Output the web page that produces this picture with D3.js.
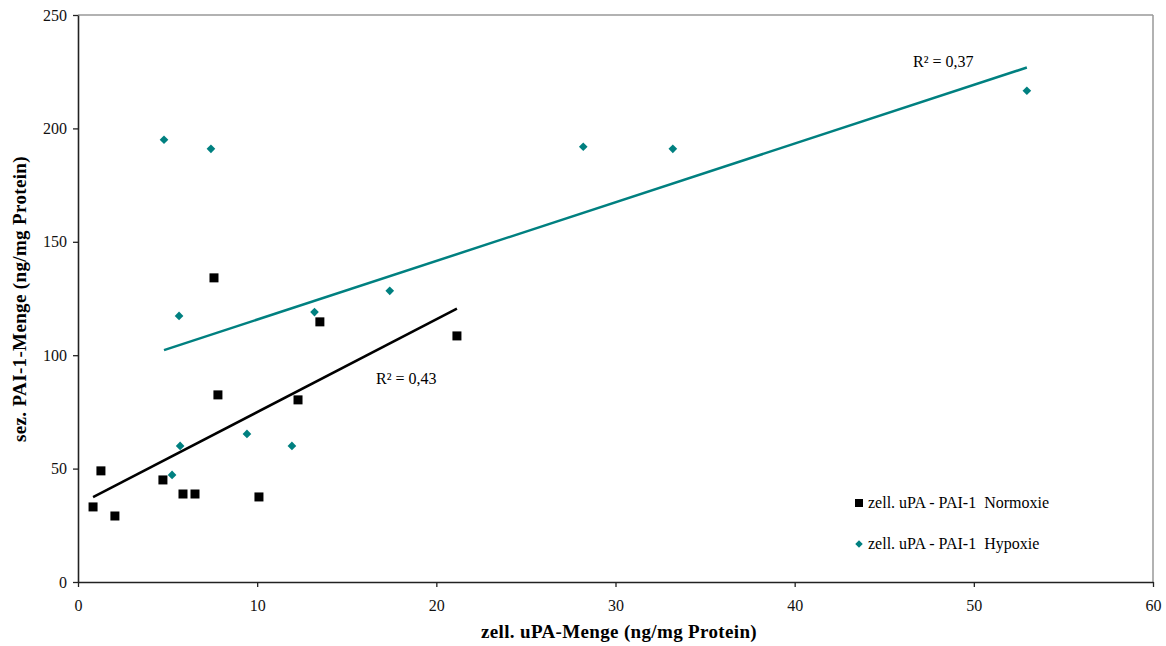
<!DOCTYPE html>
<html><head><meta charset="utf-8">
<script src="https://cdn.jsdelivr.net/npm/d3@7"></script>
<style>body{margin:0;background:#fff}svg{display:block}</style>
</head><body><svg id="c" width="1166" height="646"></svg>
<script>
const normX = [0.84,1.28,2.06,4.74,5.86,6.53,10.1,7.59,7.81,12.28,13.5,21.15];
const normY = [33.1,49,29.1,45,38.8,38.8,37.5,134.1,82.5,80.3,114.7,108.5];
const hypX = [4.8,7.42,5.64,13.2,17.4,5.7,5.25,9.43,11.94,28.2,33.2,52.96];
const hypY = [195,191,117.3,119,128.4,60,47.2,65.3,60,191.9,191,216.6];
const xTicks = [0,10,20,30,40,50,60];
const yTicks = [0,50,100,150,200,250];
const seriesNames = ["zell. uPA - PAI-1  Normoxie","zell. uPA - PAI-1  Hypoxie"];
const r2Labels = ["R² = 0,43","R² = 0,37"];
const xTitle = "zell. uPA-Menge (ng/mg Protein)";
const yTitle = "sez. PAI-1-Menge (ng/mg Protein)";

const FF = "'Liberation Serif', 'Times New Roman', Times, serif";
const svg = d3.select("#c").style("font-family", FF);
const L=78,R=1153,T=15,B=582;
const x = d3.scaleLinear().domain([0,60]).range([L,R]);
const y = d3.scaleLinear().domain([0,250]).range([B,T]);
const teal="#008080";

svg.append("line").attr("x1",L).attr("x2",R).attr("y1",T).attr("y2",T).attr("stroke","#999").attr("stroke-width",1.5);
svg.append("line").attr("x1",R).attr("x2",R).attr("y1",T).attr("y2",B).attr("stroke","#999").attr("stroke-width",1.5);

const xa = svg.append("g").attr("transform",`translate(0,${B})`).call(d3.axisBottom(x).tickValues(xTicks).tickSize(5).tickSizeOuter(0).tickPadding(13));
const ya = svg.append("g").attr("transform",`translate(${L},0)`).call(d3.axisLeft(y).tickValues(yTicks).tickSize(5).tickSizeOuter(0).tickPadding(6));
[xa,ya].forEach(a=>{a.attr("font-family",null).attr("font-size",null);a.select(".domain").attr("stroke","#222").attr("stroke-width",1.6);a.selectAll(".tick line").attr("stroke","#222").attr("stroke-width",1.3);a.selectAll("text").style("font-family",FF).style("font-size","16px").attr("fill","#111");});

svg.append("text").attr("x",619).attr("y",638).attr("text-anchor","middle").style("font-family",FF).style("font-size","19px").style("letter-spacing","0.35px").attr("font-weight","bold").text(xTitle);
svg.append("text").attr("transform",`translate(26,299) rotate(-90)`).attr("text-anchor","middle").style("font-family",FF).style("font-size","19px").style("letter-spacing","0.35px").attr("font-weight","bold").text(yTitle);

function fit(xs,ys){const n=xs.length,mx=d3.mean(xs),my=d3.mean(ys);let sxy=0,sxx=0;for(let i=0;i<n;i++){sxy+=(xs[i]-mx)*(ys[i]-my);sxx+=(xs[i]-mx)**2;}const b=sxy/sxx;return {b,a:my-b*mx,x0:d3.min(xs),x1:d3.max(xs)};}
const fits=[fit(normX,normY),fit(hypX,hypY)];
const cols=["#000",teal];
fits.forEach((f,i)=>{svg.append("line").attr("x1",x(f.x0)).attr("y1",y(f.a+f.b*f.x0)).attr("x2",x(f.x1)).attr("y2",y(f.a+f.b*f.x1)).attr("stroke",cols[i]).attr("stroke-width",2.5);});

svg.append("g").selectAll("rect").data(normX.map((v,i)=>[v,normY[i]])).join("rect")
 .attr("x",d=>x(d[0])-4.5).attr("y",d=>y(d[1])-4.5).attr("width",9).attr("height",9).attr("fill","#000");
const dia=d3.symbol().type(d3.symbolDiamond2).size(48);
svg.append("g").selectAll("path").data(hypX.map((v,i)=>[v,hypY[i]])).join("path")
 .attr("d",dia).attr("transform",d=>`translate(${x(d[0])},${y(d[1])})`).attr("fill",teal);

svg.append("text").attr("x",376).attr("y",384).style("font-family",FF).style("font-size","16px").text(r2Labels[0]);
svg.append("text").attr("x",913).attr("y",67).style("font-family",FF).style("font-size","16px").text(r2Labels[1]);

svg.append("rect").attr("x",855).attr("y",499).attr("width",8).attr("height",8).attr("fill","#000");
svg.append("path").attr("d",d3.symbol().type(d3.symbolDiamond2).size(36)).attr("transform","translate(859,544)").attr("fill",teal);
svg.append("text").attr("x",868).attr("y",508).style("font-family",FF).style("font-size","16px").style("white-space","pre").text(seriesNames[0]);
svg.append("text").attr("x",868).attr("y",549).style("font-family",FF).style("font-size","16px").style("white-space","pre").text(seriesNames[1]);
</script></body></html>
